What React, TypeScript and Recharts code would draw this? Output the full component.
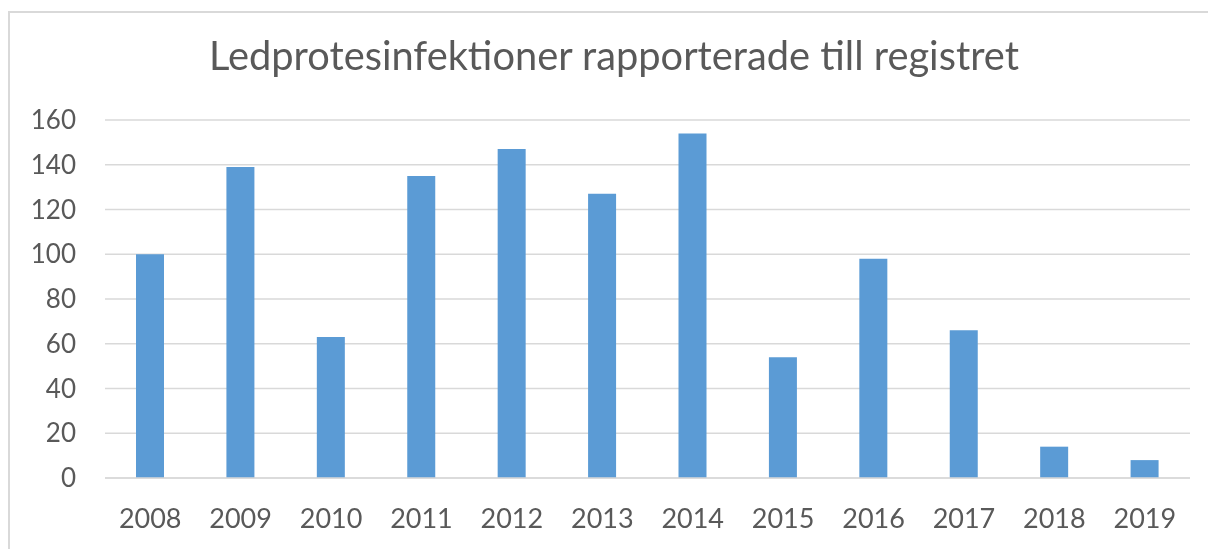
import { BarChart, Bar, XAxis, YAxis, CartesianGrid } from 'recharts';

const years = ['2008', '2009', '2010', '2011', '2012', '2013', '2014', '2015', '2016', '2017', '2018', '2019'];
const infections = [100, 139, 63, 135, 147, 127, 154, 54, 98, 66, 14, 8];
const yTicks = [0, 20, 40, 60, 80, 100, 120, 140, 160];

const data = years.map((year, i) => ({ year, value: infections[i] }));

const textColor = '#595959';
const gridColor = '#d9d9d9';
const font = 'Lato, "Open Sans", sans-serif';

export default function App() {
  return (
    <div style={{ position: 'relative', width: 1192, height: 533, fontFamily: font }}>
      <style>{'html, body { overflow: hidden; }'}</style>
      {/* chart frame, only top and left edges are visible in the window */}
      <div
        style={{
          position: 'fixed',
          left: 8,
          top: 11,
          width: 1300,
          height: 700,
          borderTop: `2px solid ${gridColor}`,
          borderLeft: `2px solid ${gridColor}`,
        }}
      />
      <div
        style={{
          position: 'absolute',
          left: 0,
          top: 25,
          width: 1212,
          textAlign: 'center',
          fontSize: 39.8,
          color: textColor,
          lineHeight: '44px',
          whiteSpace: 'nowrap',
        }}
      >
        Ledprotesinfektioner rapporterade till registret
      </div>
      <div style={{ position: 'absolute', left: 0, top: 0 }}>
        <BarChart width={1192} height={533} data={data} margin={{ top: 112, right: 10, left: 0, bottom: 3 }}>
          <CartesianGrid vertical={false} stroke={gridColor} strokeWidth={1.5} />
          <XAxis
            dataKey="year"
            axisLine={{ stroke: gridColor, strokeWidth: 1.5 }}
            tickLine={false}
            tickMargin={25}
            height={60}
            tick={{ fill: textColor, fontSize: 27, fontFamily: font }}
            interval={0}
          />
          <YAxis
            width={97}
            domain={[0, 160]}
            ticks={yTicks}
            axisLine={false}
            tickLine={false}
            tickMargin={23}
            tick={{ fill: textColor, fontSize: 26, fontFamily: font }}
          />
          <Bar dataKey="value" fill="#5b9bd5" barSize={28} isAnimationActive={false} />
        </BarChart>
      </div>
    </div>
  );
}
